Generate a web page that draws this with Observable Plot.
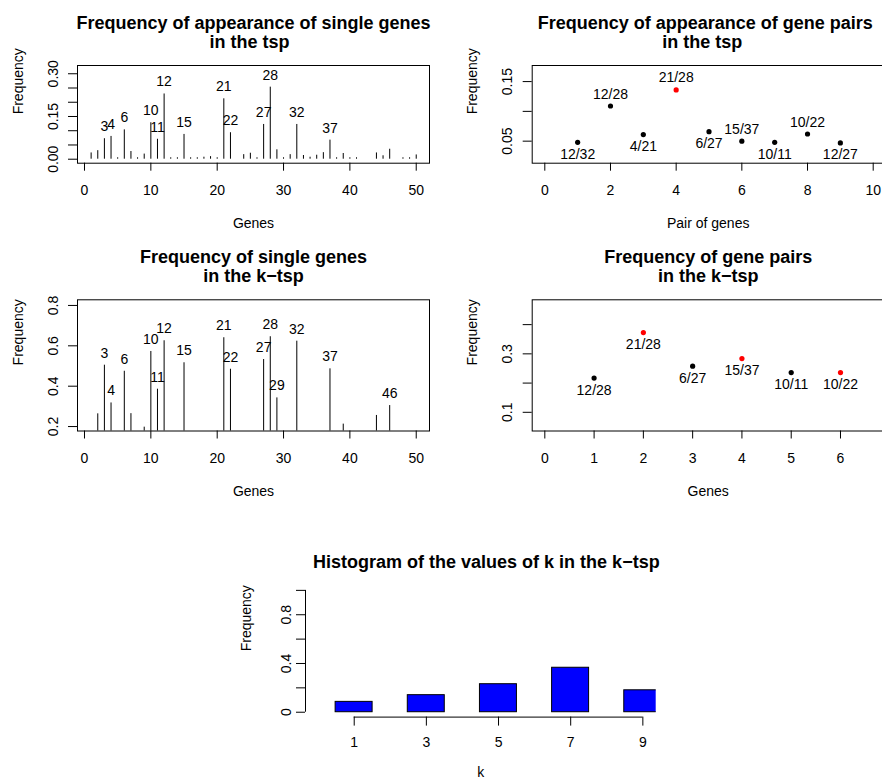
<!DOCTYPE html>
<html><head><meta charset="utf-8">
<script src="https://cdn.jsdelivr.net/npm/d3@7"></script>
<script src="https://cdn.jsdelivr.net/npm/@observablehq/plot@0.6"></script>
<style>
html,body{margin:0;padding:0;background:#fff;overflow:hidden}
#root{position:relative;width:882px;height:780px;overflow:hidden;background:#fff}
#root svg{position:absolute;overflow:visible}
</style></head><body><div id="root"></div>
<script>
// ---------------- DATA ----------------
// Panel 1: frequency of single genes in the tsp
const tspGenes = [1,2,3,4,5,6,7,8,9,10,11,12,13,14,15,16,17,18,19,20,21,22,24,25,26,27,28,29,30,31,32,33,34,35,36,37,38,39,40,41,44,45,46,48,49,50];
const tspGeneFreq = [0.022,0.030,0.072,0.080,0.005,0.103,0.027,0.005,0.018,0.128,0.070,0.229,0.005,0.005,0.087,0.005,0.005,0.007,0.009,0.005,0.212,0.093,0.016,0.021,0.005,0.122,0.253,0.033,0.005,0.016,0.122,0.013,0.007,0.014,0.023,0.067,0.005,0.020,0.005,0.005,0.022,0.012,0.035,0.005,0.005,0.015];
const tspGeneLabeled = [3,4,6,10,11,12,15,21,22,27,28,32,37];

// Panel 2: gene pairs in the tsp
const tspPairs = ["12/32","12/28","4/21","21/28","6/27","15/37","10/11","10/22","12/27"];
const tspPairFreq = [0.048,0.109,0.061,0.136,0.066,0.050,0.048,0.062,0.047];
const tspPairTop = [false,false,false,true,false,false,false,false,false];

// Panel 3: single genes in the k-tsp
const ktspGenes = [2,3,4,6,7,9,10,11,12,15,21,22,27,28,29,32,37,39,44,46];
const ktspGeneFreq = [0.263,0.504,0.317,0.474,0.264,0.197,0.572,0.385,0.625,0.516,0.640,0.484,0.532,0.645,0.342,0.623,0.486,0.212,0.255,0.304];
const ktspGeneLabeled = [3,4,6,10,11,12,15,21,22,27,28,29,32,37,46];

// Panel 4: gene pairs in the k-tsp
const ktspPairs = ["12/28","21/28","6/27","15/37","10/11","10/22"];
const ktspPairFreq = [0.217,0.373,0.258,0.284,0.236,0.236];
const ktspPairTop = [false,true,false,true,false,true];

// Panel 5: histogram of k
const kValues = [1,3,5,7,9];
const kFreq = [0.085,0.14,0.23,0.365,0.18];

// Ticks
const geneTicks = [0,10,20,30,40,50];
const pairTicks = [0,2,4,6,8,10];
const kPairTicks = [0,1,2,3,4,5,6];
const p1YTicks = [0,0.05,0.10,0.15,0.20,0.25,0.30];
const p1YLabels = ["0.00","0.15","0.30"];
const p2YTicks = [0.05,0.10,0.15];
const p2YLabels = ["0.05","0.15"];
const p3YTicks = [0.2,0.4,0.6,0.8];
const p3YLabels = ["0.2","0.4","0.6","0.8"];
const p4YTicks = [0.1,0.2,0.3,0.4];
const p4YLabels = ["0.1","0.3"];
const hYTicks = [0,0.2,0.4,0.6,0.8,1.0];
const hYLabels = ["0","0.4","0.8"];

// ---------------- DRAWING ----------------
const FONT = "'Liberation Sans', Arial, Helvetica, sans-serif";
const root = document.getElementById("root");
const HL = "#ff0000";

function place(svg, left, top) {
  svg.style.position = "absolute";
  svg.style.left = left + "px";
  svg.style.top = top + "px";
  root.appendChild(svg);
}

function yLabelMarks(labels, dx) {
  return Plot.text(labels, {y: d => +d, text: d => d, frameAnchor: "left", dx, rotate: -90,
    textAnchor: "middle", lineAnchor: "bottom"});
}

function titleMarks(l1, l2, dx1, dx2) {
  const m = [Plot.text([l1], {text: d => d, frameAnchor: "top", dy: -36.5, dx: dx1, lineAnchor: "bottom", fontWeight: "bold", fontSize: 18})];
  if (l2) m.push(Plot.text([l2], {text: d => d, frameAnchor: "top", dy: -17.5, dx: dx2, lineAnchor: "bottom", fontWeight: "bold", fontSize: 18}));
  return m;
}

function boxPanel({left, top, width, height, margin, xDomain, yDomain, xTicks, yTicks, yLabels, xLabel, titles, marks}) {
  const svg = Plot.plot({
    width, height,
    marginLeft: margin[0], marginTop: margin[1], marginRight: margin[2], marginBottom: margin[3],
    x: {domain: xDomain, axis: null},
    y: {domain: yDomain, axis: null},
    color: {type: "identity"},
    style: {fontFamily: FONT, fontSize: "14px", background: "transparent", color: "black", overflow: "visible"},
    marks: [
      ...marks,
      Plot.frame({stroke: "black", strokeWidth: 1}),
      Plot.axisX({ticks: xTicks, anchor: "bottom", tickSize: 8, tickPadding: 14, tickFormat: d => String(d), label: null}),
      Plot.axisY({ticks: yTicks, anchor: "left", tickSize: 9, tickFormat: () => "", label: null}),
      yLabelMarks(yLabels, -20),
      Plot.text([xLabel], {text: d => d, frameAnchor: "bottom", dy: 64.7, lineAnchor: "bottom"}),
      Plot.text(["Frequency"], {text: d => d, frameAnchor: "left", dx: -55, rotate: -90, lineAnchor: "bottom"}),
      ...titles
    ]
  });
  place(svg, left, top);
}

// Panel 1
const p1 = tspGenes.map((g, i) => ({g, f: tspGeneFreq[i]}));
boxPanel({
  left: 0, top: 0, width: 441, height: 240, margin: [77, 65, 12, 77.3],
  xDomain: [-1.055, 52.0], yDomain: [-0.014, 0.329],
  xTicks: geneTicks, yTicks: p1YTicks, yLabels: p1YLabels, xLabel: "Genes",
  titles: titleMarks("Frequency of appearance of single genes", "in the tsp", 0, -4),
  marks: [
    Plot.ruleX(p1, {x: "g", y1: 0, y2: "f", stroke: "black", strokeWidth: 1, clip: true}),
    Plot.text(p1.filter(d => tspGeneLabeled.includes(d.g)), {x: "g", y: "f", text: d => String(d.g), dy: -7.5, lineAnchor: "bottom"})
  ]
});

// Panel 2
const p2 = tspPairs.map((p, i) => ({i: i + 1, p, f: tspPairFreq[i], hl: tspPairTop[i]}));
boxPanel({
  left: 441, top: 0, width: 460, height: 240, margin: [90.7, 65, 17.3, 77.3],
  xDomain: [-0.384, 10.335], yDomain: [0.013, 0.177],
  xTicks: pairTicks, yTicks: p2YTicks, yLabels: p2YLabels, xLabel: "Pair of genes",
  titles: titleMarks("Frequency of appearance of gene pairs", "in the tsp", -3, -6),
  marks: [
    Plot.dot(p2, {x: "i", y: "f", r: 2.6, fill: d => d.hl ? HL : "black", stroke: null}),
    Plot.text(p2.filter(d => d.i % 2 === 0), {x: "i", y: "f", text: "p", dy: -7.5, lineAnchor: "bottom"}),
    Plot.text(p2.filter(d => d.i % 2 === 1), {x: "i", y: "f", text: "p", dy: 6.5, lineAnchor: "top"})
  ]
});

// Panel 3
const p3 = ktspGenes.map((g, i) => ({g, f: ktspGeneFreq[i]}));
boxPanel({
  left: 0, top: 240, width: 441, height: 240, margin: [77, 59.3, 12, 49.5],
  xDomain: [-1.055, 52.0], yDomain: [0.178, 0.828],
  xTicks: geneTicks, yTicks: p3YTicks, yLabels: p3YLabels, xLabel: "Genes",
  titles: titleMarks("Frequency of single genes", "in the k\u2212tsp", 0, 0),
  marks: [
    Plot.ruleX(p3, {x: "g", y1: 0, y2: "f", stroke: "black", strokeWidth: 1, clip: true}),
    Plot.text(p3.filter(d => ktspGeneLabeled.includes(d.g)), {x: "g", y: "f", text: d => String(d.g), dy: -7.5, lineAnchor: "bottom"})
  ]
});

// Panel 4
const p4 = ktspPairs.map((p, i) => ({i: i + 1, p, f: ktspPairFreq[i], hl: ktspPairTop[i]}));
boxPanel({
  left: 441, top: 240, width: 460, height: 240, margin: [90.7, 59.3, 17.3, 49.5],
  xDomain: [-0.256, 6.887], yDomain: [0.036, 0.485],
  xTicks: kPairTicks, yTicks: p4YTicks, yLabels: p4YLabels, xLabel: "Genes",
  titles: titleMarks("Frequency of gene pairs", "in the k\u2212tsp", 0, 0),
  marks: [
    Plot.dot(p4, {x: "i", y: "f", r: 2.6, fill: d => d.hl ? HL : "black", stroke: null}),
    Plot.text(p4, {x: "i", y: "f", text: "p", dy: 6.5, lineAnchor: "top"})
  ]
});

// Panel 5: histogram
const h = kValues.map((k, i) => ({k, f: kFreq[i]}));
const hXDomain = [-0.35, 9.37], hYDomain = [-0.04, 1.04];
const hsvg = Plot.plot({
  width: 882, height: 240,
  marginLeft: 305, marginTop: 45, marginRight: 226.3, marginBottom: 63.4,
  x: {domain: hXDomain, axis: null},
  y: {domain: hYDomain, axis: null},
  style: {fontFamily: FONT, fontSize: "14px", background: "transparent", color: "black", overflow: "visible"},
  marks: [
    Plot.rect(h, {x1: d => d.k - 0.515, x2: d => d.k + 0.51, y1: 0, y2: "f", fill: "#0000ff", stroke: "black", strokeWidth: 1, clip: true}),
    Plot.ruleX([hXDomain[0]], {y1: hYTicks[0], y2: hYTicks[hYTicks.length - 1], stroke: "black"}),
    Plot.ruleY([hYDomain[0]], {x1: kValues[0], x2: kValues[kValues.length - 1], stroke: "black"}),
    Plot.axisX({ticks: kValues, anchor: "bottom", tickSize: 9, tickPadding: 11, tickFormat: d => String(d), label: null}),
    Plot.axisY({ticks: hYTicks, anchor: "left", tickSize: 9, tickFormat: () => "", label: null}),
    yLabelMarks(hYLabels, -15),
    Plot.text(["k"], {text: d => d, frameAnchor: "bottom", dy: 60, lineAnchor: "bottom"}),
    Plot.text(["Frequency"], {text: d => d, frameAnchor: "left", dx: -55, rotate: -90, lineAnchor: "bottom"}),
    Plot.text(["Histogram of the values of k in the k\u2212tsp"], {text: d => d, frameAnchor: "top", dy: -17.3, dx: 5.5, lineAnchor: "bottom", fontWeight: "bold", fontSize: 18})
  ]
});
place(hsvg, 0, 540);
</script></body></html>
